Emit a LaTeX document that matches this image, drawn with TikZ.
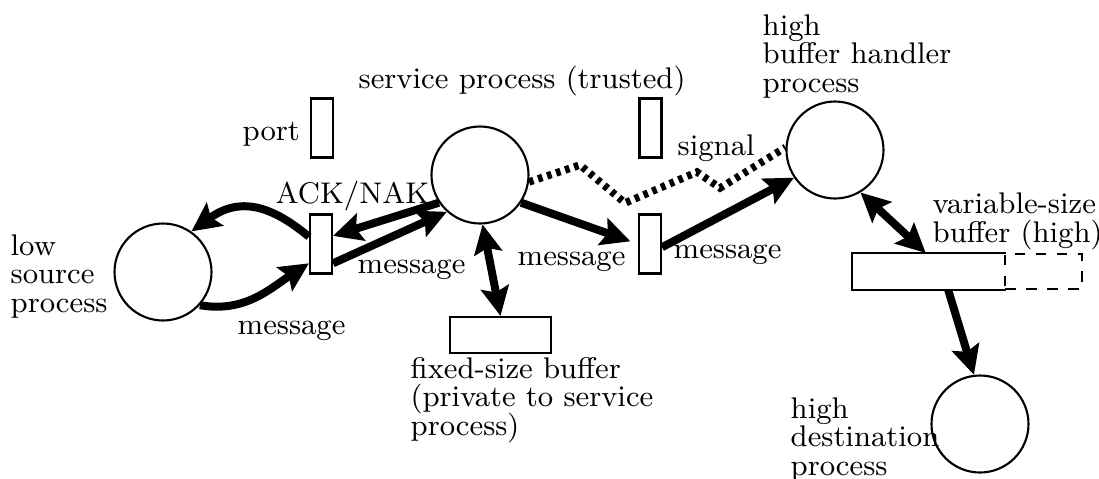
\documentclass[tikz,border=0pt]{standalone}
\usetikzlibrary{arrows.meta}
\tikzset{
  proc/.style={circle, draw, line width=0.6pt, minimum size=9.7mm, inner sep=0pt},
  portbox/.style={rectangle, draw, line width=0.6pt, minimum width=2.2mm, minimum height=5.9mm, inner sep=0pt},
  bufbox/.style={rectangle, line width=0.6pt, minimum height=3.5mm, inner sep=0pt},
  flow/.style={line width=0.8mm, -{Stealth[length=2.9mm, width=2.8mm, inset=0.5mm]}},
  twoway/.style={line width=0.8mm, {Stealth[length=2.9mm, width=2.8mm, inset=0.5mm]}-{Stealth[length=2.9mm, width=2.8mm, inset=0.5mm]}},
  sigline/.style={line width=0.75mm, dash pattern=on 1.3pt off 1.4pt},
  lbl/.style={anchor=base west, inner sep=0pt, align=left}
}
\begin{document}
\begin{tikzpicture}[font={\fontsize{8.5}{8.1}\selectfont\lineskiplimit=-6pt}]
    \useasboundingbox (0,0) rectangle (10.99,4.78);

    % Processes
    \node[proc] (low) at (1.63,2.06) {};
    \node[proc] (serv) at (4.80,3.03) {};
    \node[proc] (hand) at (8.35,3.28) {};
    \node[proc] (dest) at (9.80,0.54) {};

    % Ports
    \node[portbox] (port) at (3.22,3.50) {};
    \node[portbox] (ack) at (3.21,2.34) {};
    \node[portbox] (sigport) at (6.505,3.50) {};
    \node[portbox] (midport) at (6.50,2.34) {};

    % Buffers
    \node[bufbox, draw, minimum width=10.1mm, minimum height=3.6mm] (fixed) at (5.005,1.43) {};
    \node[bufbox, minimum width=15.2mm] (varbuf) at (9.29,2.065) {};
    \draw[line width=0.6pt] (varbuf.north east) -- (varbuf.north west) -- (varbuf.south west) -- (varbuf.south east);
    \node[bufbox, draw, dashed, minimum width=7.7mm] (varext) at (10.435,2.065) {};

    % Labels (base = last line)
    \node[lbl] (handlbl) at (7.62,3.86) {high\\buffer handler\\process};
    \node[lbl] (servlbl) at (3.58,3.90) {service process (trusted)};
    \node[lbl] (portlbl) at (2.42,3.38) {port};
    \node[lbl] (acklbl) at (2.75,2.75) {ACK/NAK};
    \node[lbl] (siglbl) at (6.77,3.23) {signal};
    \node[lbl] (msga) at (3.57,2.05) {message};
    \node[lbl] (msgb) at (2.37,1.44) {message};
    \node[lbl] (msgc) at (5.17,2.13) {message};
    \node[lbl] (msgd) at (6.73,2.20) {message};
    \node[lbl] (lowlbl) at (0.10,1.66) {low\\source\\process};
    \node[lbl] (fixedlbl) at (4.10,0.43) {fixed-size buffer\\(private to service\\process)};
    \node[lbl] (varlbl) at (9.32,2.36) {variable-size\\buffer (high)};
    \node[lbl] (destlbl) at (7.90,0.03) {high\\destination\\process};

    % Message flow
    \draw[flow] (ack.149) to[out=140, in=36, looseness=1.2] (low.55);
    \draw[flow] (low.318) to[out=-10, in=213] (ack.238);
    \draw[flow] (serv.214) -- (ack.34);
    \draw[flow] (ack.302) -- (serv.228);
    \draw[twoway] (serv.273) -- (fixed.north);
    \draw[flow, shorten >=0.8mm] (serv.326) -- (midport.west);
    \draw[flow] (midport.345) -- (hand.214);
    \draw[twoway] (hand.301) -- (varbuf.100);
    \draw[flow] (varbuf.316) -- (dest.97);

    % Signal
    \draw[sigline] (serv.352) -- (5.80,3.13) -- (6.25,2.75) -- (6.97,3.06) -- (7.20,2.90) -- (hand.177);
\end{tikzpicture}
\end{document}
